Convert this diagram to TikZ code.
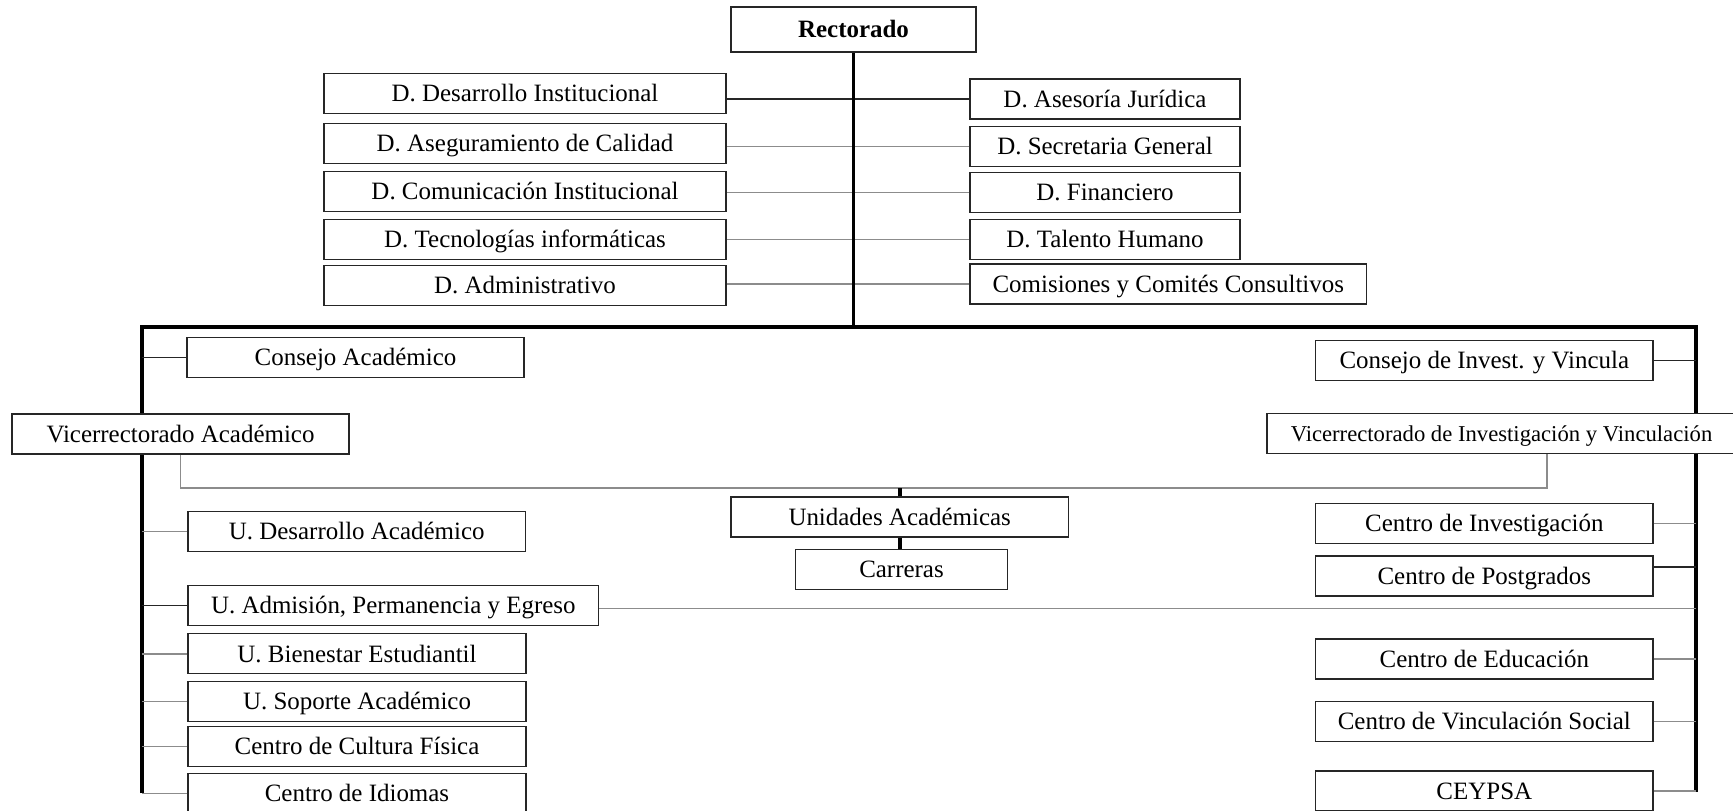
\documentclass[tikz,border=0pt]{standalone}
\usepackage{fontspec}
\setmainfont{Liberation Serif}

\begin{document}
\begin{tikzpicture}[x=0.2mm, y=-0.2mm,
		unit/.style={draw=black!85, fill=white, line width=.7pt, inner sep=0pt,
			minimum height=8mm, text height=11pt, text depth=1.6pt,
			font=\fontsize{14.2}{17}\selectfont},
		spine/.style={line width=2.2pt},
		link/.style={line width=.8pt, black!85},
		glink/.style={line width=.8pt, black!45}]
	\clip (0,0) rectangle (1733,811);
	\coordinate (barL) at (142,327);
	\coordinate (barR) at (1696,327);
	\coordinate (endL) at (142,793);
	\coordinate (endR) at (1696,792);
	\coordinate (brR) at (1547,488);
	\draw[spine] (endL) -- (barL) -- (barR) -- (endR);

	\node[unit, font=\bfseries\fontsize{14.2}{17}\selectfont, minimum width=49mm, minimum height=9mm] (rect) at (853.5,29.5) {Rectorado};
	\node[unit, minimum width=80.4mm] (dinst) at (525, 93.7) {D. Desarrollo Institucional};
	\node[unit, minimum width=80.4mm] (dcal)  at (525,143.3) {D. Aseguramiento de Calidad};
	\node[unit, minimum width=80.4mm] (dcom)  at (525,191.7) {D. Comunicación Institucional};
	\node[unit, minimum width=80.4mm] (dtec)  at (525,239.7) {D. Tecnologías informáticas};
	\node[unit, minimum width=80.4mm] (dadm)  at (525,285.5) {D. Administrativo};
	\node[unit, minimum width=54mm] (djur) at (1105, 99.0) {D. Asesoría Jurídica};
	\node[unit, minimum width=54mm] (dsec) at (1105,146.3) {D. Secretaria General};
	\node[unit, minimum width=54mm] (dfin) at (1105,192.5) {D. Financiero};
	\node[unit, minimum width=54mm] (dtal) at (1105,239.5) {D. Talento Humano};
	\node[unit, minimum width=79.3mm] (comi) at (1168.3,284) {Comisiones y Comités Consultivos};

	\node[unit, minimum width=67.4mm] (cacad) at (355.5,357.5) {Consejo Académico};
	\node[unit, minimum width=67.4mm] (vacad) at (180.5,434) {Vicerrectorado Académico};
	\node[unit, minimum width=67.5mm] (udes)  at (356.7,531.7) {U. Desarrollo Académico};
	\node[unit, minimum width=82.1mm] (uadm)  at (393.3,605.7) {U. Admisión, Permanencia y Egreso};
	\node[unit, minimum width=67.6mm] (ubien) at (357,653.8) {U. Bienestar Estudiantil};
	\node[unit, minimum width=67.6mm] (usop)  at (357,701.3) {U. Soporte Académico};
	\node[unit, minimum width=67.6mm] (ccul)  at (357,746.7) {Centro de Cultura Física};
	\node[unit, minimum width=67.6mm] (cidi)  at (357,793.3) {Centro de Idiomas};

	\node[unit, minimum width=67.5mm] (cinv) at (1484.3,360.7) {Consejo de Invest. y Vincula};
	\node[unit, minimum width=93.8mm, font=\fontsize{12.9}{15}\selectfont] (vinv) at (1501.5,433.3) {Vicerrectorado de Investigación y Vinculación};
	\node[unit, minimum width=67.5mm] (cest) at (1484.3,523.7) {Centro de Investigación};
	\node[unit, minimum width=67.5mm] (cpos) at (1484.3,576) {Centro de Postgrados};
	\node[unit, minimum width=67.5mm] (cedu) at (1484.3,659) {Centro de Educación};
	\node[unit, minimum width=67.5mm] (cvin) at (1484.3,721.7) {Centro de Vinculación Social};
	\node[unit, minimum width=67.5mm] (ceyp) at (1484.3,791) {CEYPSA};

	\node[unit, minimum width=67.5mm] (unid) at (899.7,517) {Unidades Académicas};
	\node[unit, minimum width=42.3mm] (carr) at (901.5,569.2) {Carreras};

	\draw[link]  (djur.west) -- (djur.west -| dinst.east);
	\draw[glink] (dsec.west) -- (dsec.west -| dcal.east);
	\draw[glink] (dfin.west) -- (dfin.west -| dcom.east);
	\draw[glink] (dtal.west) -- (dtal.west -| dtec.east);
	\draw[glink] (comi.west) -- (comi.west -| dadm.east);
	\draw[spine] (rect.south) -- (rect.south |- barL);

	\draw[link]  (cacad.west) -- (cacad.west -| barL);
	\draw[glink] (udes.west)  -- (udes.west -| barL);
	\draw[link]  (uadm.west)  -- (uadm.west -| barL);
	\draw[glink] (ubien.west) -- (ubien.west -| barL);
	\draw[glink] (usop.west)  -- (usop.west -| barL);
	\draw[glink] (ccul.west)  -- (ccul.west -| barL);
	\draw[glink] (cidi.west)  -- (cidi.west -| barL);
	\draw[glink] ([yshift=-0.6mm]uadm.east) -- ([yshift=-0.6mm]uadm.east -| barR);

	\draw[link]  (cinv.east) -- (cinv.east -| barR);
	\draw[glink] (cest.east) -- (cest.east -| barR);
	\draw[link]  ([yshift=1.8mm]cpos.east) -- ([yshift=1.8mm]cpos.east -| barR);
	\draw[glink] (cedu.east) -- (cedu.east -| barR);
	\draw[glink] (cvin.east) -- (cvin.east -| barR);
	\draw[glink] (ceyp.east) -- (ceyp.east -| barR);

	\draw[glink] (vacad.south) |- (brR) -- (brR |- vinv.south);
	\draw[spine] (unid.north) -- (unid.north |- brR);
	\draw[spine] (unid.south) -- (unid.south |- carr.north);
\end{tikzpicture}
\end{document}
